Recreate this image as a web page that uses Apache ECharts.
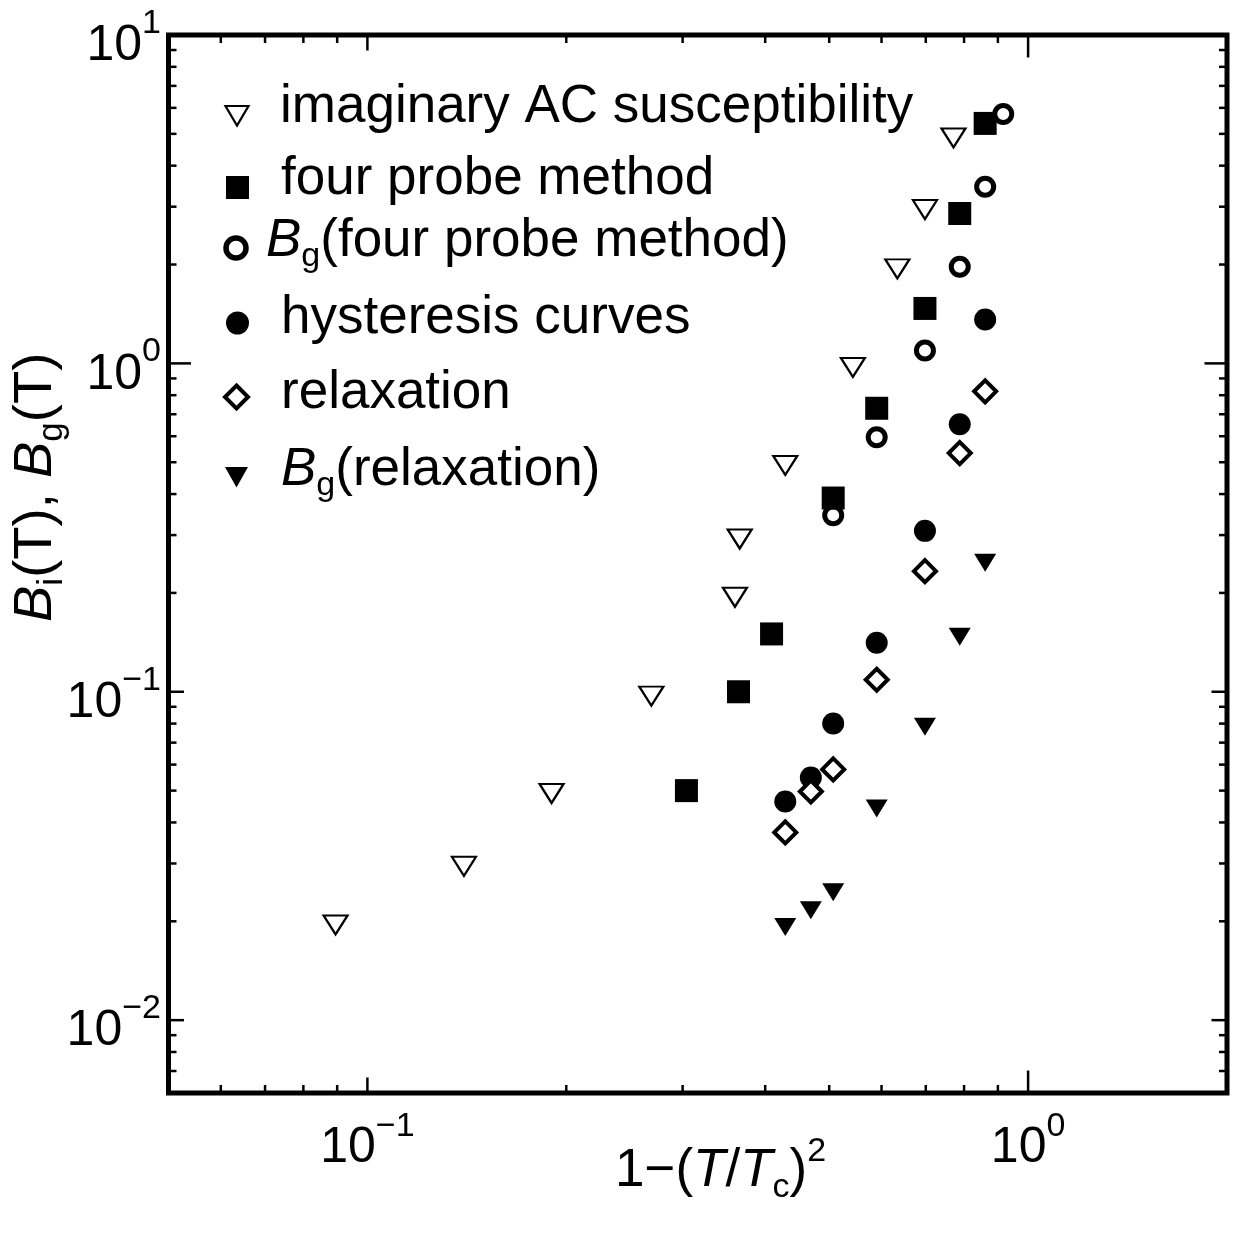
<!DOCTYPE html>
<html><head><meta charset="utf-8">
<script src="https://cdn.jsdelivr.net/npm/echarts@6/dist/echarts.min.js"></script>
<style>html,body{margin:0;padding:0;background:#fff}#c{width:1244px;height:1234px}</style>
</head><body><div id="c"></div>
<script>
const FONT = '"Liberation Sans", Arial, Helvetica, sans-serif';

// ---------------- data ----------------
const acX   = [0.0895, 0.140, 0.190, 0.269, 0.360, 0.366, 0.429, 0.543, 0.634, 0.698, 0.771];
const acY   = [0.0195, 0.0294, 0.049, 0.097, 0.194, 0.292, 0.489, 0.972, 1.94, 2.94, 4.86];
const fpX   = [0.304, 0.3645, 0.409, 0.507, 0.590, 0.698, 0.788, 0.861];
const fpY   = [0.050, 0.100, 0.150, 0.389, 0.730, 1.47, 2.86, 5.38];
const bgfpX = [0.507, 0.590, 0.698, 0.788, 0.861, 0.917];
const bgfpY = [0.345, 0.596, 1.095, 1.97, 3.45, 5.75];
const hyX   = [0.429, 0.469, 0.507, 0.590, 0.698, 0.788, 0.861];
const hyY   = [0.0463, 0.0548, 0.080, 0.141, 0.309, 0.653, 1.36];
const rlX   = [0.429, 0.469, 0.507, 0.590, 0.698, 0.788, 0.861];
const rlY   = [0.0373, 0.0497, 0.058, 0.1088, 0.233, 0.533, 0.822];
const bgrlX = [0.429, 0.469, 0.507, 0.590, 0.698, 0.788, 0.861];
const bgrlY = [0.0192, 0.0216, 0.0245, 0.0441, 0.0783, 0.147, 0.247];

const seriesNames = ['imaginary AC susceptibility', 'four probe method', 'Bg(four probe method)',
                     'hysteresis curves', 'relaxation', 'Bg(relaxation)'];

const X_MIN = 0.05, X_MAX = 2, Y_MIN = 0.006, Y_MAX = 10;
const xTickValues = [0.06,0.07,0.08,0.09,0.1,0.2,0.3,0.4,0.5,0.6,0.7,0.8,0.9,1];
const yTickValues = [0.007,0.008,0.009,0.01,0.02,0.03,0.04,0.05,0.06,0.07,0.08,0.09,
                     0.1,0.2,0.3,0.4,0.5,0.6,0.7,0.8,0.9,1,2,3,4,5,6,7,8,9];
const xLabelValues = [0.1, 1];
const xLabelExps   = ['\u22121', '0'];
const yLabelValues = [0.01, 0.1, 1, 10];
const yLabelExps   = ['\u22122', '\u22121', '0', '1'];

// ---------------- helpers ----------------
const K = 0.35; // alphabetic baseline offset below 'middle' in em
const mctx = document.createElement('canvas').getContext('2d');
function tw(text, size, italic) {
  mctx.font = (italic ? 'italic ' : '') + size + 'px ' + FONT;
  return mctx.measureText(text).width;
}
function txt(x, baseY, text, size, align, italic) {
  return { type: 'text', silent: true, style: {
    x: x, y: baseY - K * size, text: text, fontSize: size, fontFamily: FONT,
    fontStyle: italic ? 'italic' : 'normal', fill: '#000', align: align || 'left', verticalAlign: 'middle' } };
}
function zip(a, b) { return a.map((v, i) => [v, b[i]]); }
function isPow10(v) { const l = Math.log10(v); return Math.abs(l - Math.round(l)) < 1e-9; }

const TICK_W = 2.5;
function tickLen(v) { return v === 1 ? 22.5 : (isPow10(v) ? 15.5 : 8); }

const LBL = 50, SUP = 34;
const black = '#000';

// ---------------- series ----------------
const series = [
  { name: seriesNames[0], type: 'scatter', data: zip(acX, acY), symbol: 'triangle', symbolRotate: 180,
    symbolSize: [24, 19], itemStyle: { color: '#fff', borderColor: black, borderWidth: 2.2, opacity: 1 } },
  { name: seriesNames[1], type: 'scatter', data: zip(fpX, fpY), symbol: 'rect', symbolSize: 23, z: 4,
    itemStyle: { color: black, opacity: 1 } },
  { name: seriesNames[2], type: 'scatter', data: zip(bgfpX, bgfpY), symbol: 'circle', symbolSize: 17, z: 3,
    itemStyle: { color: '#fff', borderColor: black, borderWidth: 5, opacity: 1 } },
  { name: seriesNames[3], type: 'scatter', data: zip(hyX, hyY), symbol: 'circle', symbolSize: 22, z: 3,
    itemStyle: { color: black, opacity: 1 } },
  { name: seriesNames[4], type: 'scatter', data: zip(rlX, rlY), symbol: 'diamond', symbolSize: 22, z: 3,
    itemStyle: { color: '#fff', borderColor: black, borderWidth: 4, opacity: 1 } },
  { name: seriesNames[5], type: 'scatter', data: zip(bgrlX, bgrlY), symbol: 'triangle', symbolRotate: 180,
    symbolSize: [22, 18], z: 3, itemStyle: { color: black, opacity: 1 } },
  // x ticks (top and bottom)
  { type: 'custom', coordinateSystem: 'cartesian2d', silent: true, clip: false, z: 6,
    data: xTickValues.map(v => [v, Y_MIN]),
    renderItem: function (params, api) {
      const v = api.value(0), p = api.coord([v, Y_MIN]), cs = params.coordSys, L = tickLen(v);
      const st = { stroke: black, lineWidth: TICK_W };
      return { type: 'group', children: [
        { type: 'line', shape: { x1: p[0], y1: cs.y + cs.height, x2: p[0], y2: cs.y + cs.height - L }, style: st },
        { type: 'line', shape: { x1: p[0], y1: cs.y, x2: p[0], y2: cs.y + L }, style: st }
      ] };
    } },
  // y ticks (left and right)
  { type: 'custom', coordinateSystem: 'cartesian2d', silent: true, clip: false, z: 6,
    data: yTickValues.map(v => [X_MIN, v]),
    renderItem: function (params, api) {
      const v = api.value(1), p = api.coord([X_MIN, v]), cs = params.coordSys, L = tickLen(v);
      const st = { stroke: black, lineWidth: TICK_W };
      return { type: 'group', children: [
        { type: 'line', shape: { x1: cs.x, y1: p[1], x2: cs.x + L, y2: p[1] }, style: st },
        { type: 'line', shape: { x1: cs.x + cs.width, y1: p[1], x2: cs.x + cs.width - L, y2: p[1] }, style: st }
      ] };
    } },
  // x tick labels
  { type: 'custom', coordinateSystem: 'cartesian2d', silent: true, clip: false, z: 6,
    data: xLabelValues.map(v => [v, Y_MIN]),
    renderItem: function (params, api) {
      const v = api.value(0), p = api.coord([v, Y_MIN]), cs = params.coordSys;
      const sup = xLabelExps[params.dataIndex];
      const wb = tw('10', LBL), ws = tw(sup, SUP);
      const x0 = p[0] - (wb + ws) / 2 + wb;
      const yb = cs.y + cs.height;
      return { type: 'group', children: [ txt(x0, yb + 73, '10', LBL, 'right'), txt(x0, yb + 46, sup, SUP, 'left') ] };
    } },
  // y tick labels
  { type: 'custom', coordinateSystem: 'cartesian2d', silent: true, clip: false, z: 6,
    data: yLabelValues.map(v => [X_MIN, v]),
    renderItem: function (params, api) {
      const v = api.value(1), p = api.coord([X_MIN, v]);
      const sup = yLabelExps[params.dataIndex];
      const ws = tw(sup, SUP);
      const x0 = 161 - ws;
      return { type: 'group', children: [ txt(x0, p[1] + 29, '10', LBL, 'right'), txt(x0, p[1] + 0.5, sup, SUP, 'left') ] };
    } }
];

// ---------------- legend (drawn as graphic) ----------------
const TF = 53, TS = 34;
function buildRun(parts, x0, y0) {
  let x = x0 || 0; const out = [];
  parts.forEach(p => {
    out.push(txt(x, (y0 || 0) + (p.dy || 0), p.t, p.s, 'left', p.i));
    x += tw(p.t, p.s, p.i);
  });
  return out;
}
function legendParts(name) {
  if (name.indexOf('Bg(') === 0) return [{ t: 'B', s: TF, i: true }, { t: 'g', s: TS, dy: 9 }, { t: name.slice(2), s: TF }];
  return [{ t: name, s: TF }];
}
function icon(kind, cx, cy) {
  const W = '#fff';
  switch (kind) {
    case 0: return { type: 'polygon', shape: { points: [[cx - 11.5, cy - 9.5], [cx + 11.5, cy - 9.5], [cx, cy + 10]] },
                     style: { fill: W, stroke: black, lineWidth: 2.2 } };
    case 1: return { type: 'rect', shape: { x: cx - 11.5, y: cy - 11.5, width: 23, height: 23 }, style: { fill: black } };
    case 2: return { type: 'circle', shape: { cx: cx, cy: cy, r: 10 }, style: { fill: W, stroke: black, lineWidth: 5.5 } };
    case 3: return { type: 'circle', shape: { cx: cx, cy: cy, r: 11.5 }, style: { fill: black } };
    case 4: return { type: 'polygon', shape: { points: [[cx, cy - 11.5], [cx + 11.5, cy], [cx, cy + 11.5], [cx - 11.5, cy]] },
                     style: { fill: W, stroke: black, lineWidth: 4 } };
    default: return { type: 'polygon', shape: { points: [[cx - 11.5, cy - 10], [cx + 11.5, cy - 10], [cx, cy + 10.5]] },
                      style: { fill: black } };
  }
}
const legendRows = [
  { cx: 237,   cy: 115.5, tx: 280, base: 126 },
  { cx: 237.5, cy: 187.5, tx: 281, base: 198 },
  { cx: 236,   cy: 248,   tx: 266, base: 260 },
  { cx: 237.5, cy: 323,   tx: 281, base: 337 },
  { cx: 236.5, cy: 397,   tx: 281, base: 412 },
  { cx: 236.5, cy: 477,   tx: 281, base: 489 }
];
const legendGraphic = { type: 'group', silent: true, children: [] };
legendRows.forEach((r, i) => {
  legendGraphic.children.push(icon(i, r.cx, r.cy));
  buildRun(legendParts(seriesNames[i]), r.tx, r.base).forEach(t => legendGraphic.children.push(t));
});

// ---------------- axis titles (graphic) ----------------
const YT = 54.5, YS = 35;
const yTitle = { type: 'group', x: 55, y: 622, rotation: Math.PI / 2, silent: true, children: buildRun([
  { t: 'B', s: YT, i: true }, { t: 'i', s: YS, dy: 9.5 }, { t: '(T), ', s: YT },
  { t: 'B', s: YT, i: true }, { t: 'g', s: YS, dy: 9.5 }, { t: '(T)', s: YT }
]) };
const xTitle = { type: 'group', x: 615, y: 1190, silent: true, children: buildRun([
  { t: '1\u2212(', s: TF }, { t: 'T', s: TF, i: true }, { t: '/', s: TF }, { t: 'T', s: TF, i: true },
  { t: 'c', s: TS, dy: 10 }, { t: ')', s: TF }, { t: '2', s: TS, dy: -26 }
]) };

const chart = echarts.init(document.getElementById('c'), null, { renderer: 'canvas' });
chart.setOption({
  animation: false,
  backgroundColor: '#fff',
  grid: { left: 168.5, right: 17, top: 35, bottom: 141, show: true, borderColor: black, borderWidth: 5,
          backgroundColor: 'transparent', containLabel: false },
  xAxis: { type: 'log', logBase: 10, min: X_MIN, max: X_MAX, axisLine: { show: false }, axisTick: { show: false },
           axisLabel: { show: false }, splitLine: { show: false }, minorTick: { show: false } },
  yAxis: { type: 'log', logBase: 10, min: Y_MIN, max: Y_MAX, axisLine: { show: false }, axisTick: { show: false },
           axisLabel: { show: false }, splitLine: { show: false }, minorTick: { show: false } },
  series: series,
  graphic: [legendGraphic, yTitle, xTitle]
});
</script></body></html>
